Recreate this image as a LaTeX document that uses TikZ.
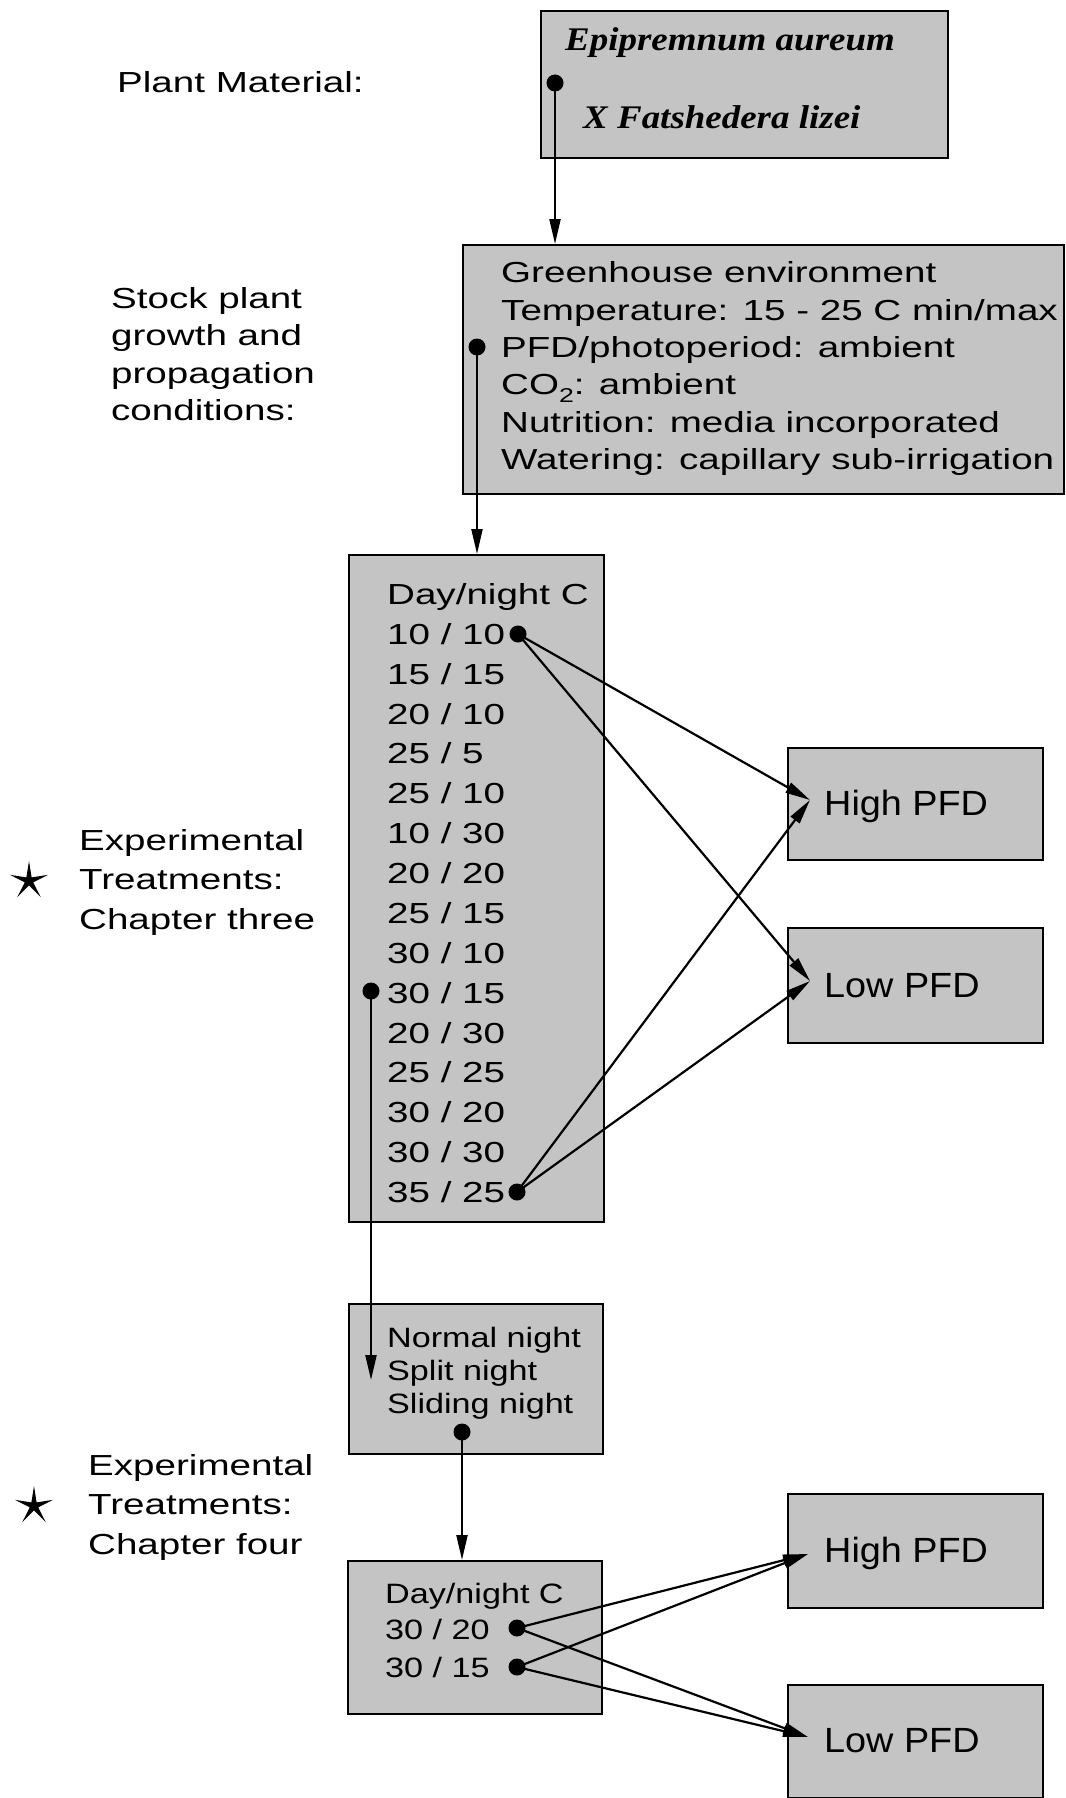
\documentclass[tikz,border=0pt]{standalone}
\usepackage{fontspec}
\setmainfont{Liberation Sans}[FakeStretch=1.33]
\newfontfamily\fB{Liberation Sans}[FakeStretch=1.22]
\newfontfamily\fC{Liberation Sans}[FakeStretch=1.08]
\newfontfamily\fS{Liberation Serif}[FakeStretch=1.12]
\usetikzlibrary{arrows.meta,shapes.geometric}
\begin{document}
\begin{tikzpicture}[x=1pt,y=-1pt,
  box/.style={draw=black, line width=2pt, fill=black!23, rectangle, inner sep=0pt, anchor=north west},
  txtA/.style={inner sep=0pt, anchor=base west, font=\fontsize{29}{35}\selectfont},
  txtB/.style={inner sep=0pt, anchor=base west, font=\fB\fontsize{28}{34}\selectfont},
  txtC/.style={inner sep=0pt, anchor=base west, font=\fC\fontsize{35}{40}\selectfont},
  txtS/.style={inner sep=0pt, anchor=base west, font=\fS\bfseries\itshape\fontsize{33}{38}\selectfont},
  dot/.style={circle, fill=black, inner sep=0pt, minimum size=17pt},
  conn/.style={line width=2.2pt, -{Triangle[length=25pt,width=11pt]}},
  starmark/.style={star, star points=5, star point ratio=4.5, fill=black, inner sep=0pt, minimum size=40pt}
]
\path[use as bounding box, fill=white] (0,0) rectangle (1065,1798);

% boxes
\node[box, minimum width=407pt, minimum height=147pt] (b1) at (540,10) {};
\node[box, minimum width=601pt, minimum height=249pt] (b2) at (462,244) {};
\node[box, minimum width=255pt, minimum height=667pt] (b3) at (348,554) {};
\node[box, minimum width=254pt, minimum height=150pt] (b4) at (348,1303) {};
\node[box, minimum width=254pt, minimum height=153pt] (b5) at (347,1560) {};
\node[box, minimum width=255pt, minimum height=112pt] (h1) at (787,747) {};
\node[box, minimum width=255pt, minimum height=115pt] (l1) at (787,927) {};
\node[box, minimum width=255pt, minimum height=114pt] (h2) at (787,1493) {};
\node[box, minimum width=255pt, minimum height=113pt] (l2) at (787,1684) {};

% box texts
\node[txtS] (sp1) at (565,51) {Epipremnum aureum};
\node[txtS] (sp2) at (583,129) {X Fatshedera lizei};

\node[txtA] (g1) at (501,282.6) {Greenhouse environment};
\node[txtA] (g2) at (501,320.0) {Temperature: 15 - 25 C min/max};
\node[txtA] (g3) at (501,357.4) {PFD/photoperiod: ambient};
\node[txtA] (g4) at (501,394.8) {CO\raisebox{-0.28em}{\fontsize{20}{20}\selectfont 2}: ambient};
\node[txtA] (g5) at (501,432.2) {Nutrition: media incorporated};
\node[txtA] (g6) at (501,469.6) {Watering: capillary sub-irrigation};

\node[txtA] (rh) at (387,604.5) {Day/night C};
\foreach \v [count=\i from 0] in {{10 / 10},{15 / 15},{20 / 10},{25 / 5},{25 / 10},{10 / 30},{20 / 20},{25 / 15},{30 / 10},{30 / 15},{20 / 30},{25 / 25},{30 / 20},{30 / 30},{35 / 25}}
  \node[txtA] (r\i) at (387,{644.4+39.86*\i}) {\v};

\node[txtB] (n1) at (387,1347) {Normal night};
\node[txtB] (n2) at (387,1380) {Split night};
\node[txtB] (n3) at (387,1413) {Sliding night};

\node[txtB] (q0) at (385,1603) {Day/night C};
\node[txtB] (q1) at (385,1639) {30 / 20};
\node[txtB] (q2) at (385,1677) {30 / 15};

\node[txtC] (h1t) at (824,815.5) {High PFD};
\node[txtC] (l1t) at (824,997) {Low PFD};
\node[txtC] (h2t) at (824,1562) {High PFD};
\node[txtC] (l2t) at (824,1752) {Low PFD};

% left labels
\node[txtA] (pm) at (117,93) {Plant Material:};
\node[txtA] (s1) at (111,308) {Stock plant};
\node[txtA] (s2) at (111,345.5) {growth and};
\node[txtA] (s3) at (111,383) {propagation};
\node[txtA] (s4) at (111,420.5) {conditions:};
\node[txtA] (e1) at (79,850) {Experimental};
\node[txtA] (e2) at (79,889.5) {Treatments:};
\node[txtA] (e3) at (79,929) {Chapter three};
\node[txtA] (f1) at (88,1475) {Experimental};
\node[txtA] (f2) at (88,1514) {Treatments:};
\node[txtA] (f3) at (88,1554) {Chapter four};
\node[starmark] (st1) at (29,881) {};
\node[starmark] (st2) at (34,1506) {};

% dots
\node[dot] (d1) at (555,83) {};
\node[dot] (d2) at (477,347) {};
\node[dot] (d3) at (518,634) {};
\node[dot] (d4) at (517,1192) {};
\node[dot] (d5) at (371,991) {};
\node[dot] (d6) at (462,1432) {};
\node[dot] (d7) at (517,1628) {};
\node[dot] (d8) at (517,1667) {};

% arrow tips
\coordinate (th1) at (810,800);
\coordinate (tl1) at (810,981);
\coordinate (th2) at (808,1554);
\coordinate (tl2) at (808,1737);
\coordinate (t5) at (371,1380);

% connectors
\draw[conn] (d1.center) -- (d1 |- b2.north);
\draw[conn] (d2.center) -- (d2 |- b3.north);
\draw[conn] (d3.center) -- (th1);
\draw[conn] (d3.center) -- (tl1);
\draw[conn] (d4.center) -- (th1);
\draw[conn] (d4.center) -- (tl1);
\draw[conn] (d5.center) -- (t5);
\draw[conn] (d6.center) -- (d6 |- b5.north);
\draw[conn] (d7.center) -- (th2);
\draw[conn] (d7.center) -- (tl2);
\draw[conn] (d8.center) -- (th2);
\draw[conn] (d8.center) -- (tl2);
\end{tikzpicture}
\end{document}
